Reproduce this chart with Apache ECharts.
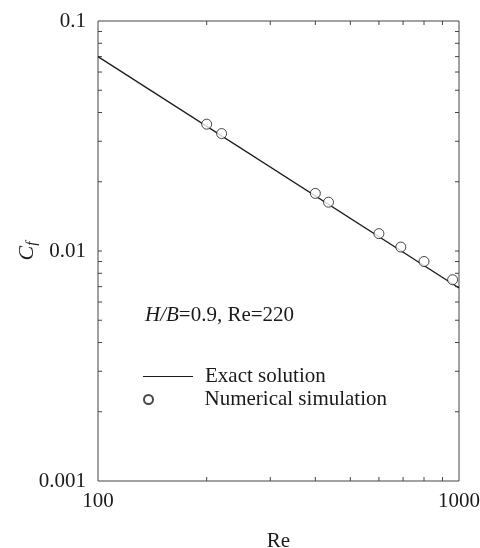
<!DOCTYPE html>
<html>
<head>
<meta charset="utf-8">
<script src="https://cdn.jsdelivr.net/npm/echarts@6/dist/echarts.min.js"></script>
<style>html,body{margin:0;padding:0;background:#fff}#c{width:480px;height:548px}</style>
</head>
<body>
<div id="c"></div>
<script>
// ---- data ----
const exactRe = [100, 1000];
const exactCf = [0.07, 0.0069];
const simRe = [200, 220, 400, 435, 600, 690, 800, 960];
const simCf = [0.0356, 0.0324, 0.0178, 0.0163, 0.0119, 0.0104, 0.0090, 0.0075];
const xTickLabels = ['100', '1000'];
const yTickLabels = ['0.001', '0.01', '0.1'];
const xTickValues = [200, 300, 400, 500, 600, 700, 800, 900];
const yTickValues = [0.002, 0.003, 0.004, 0.005, 0.006, 0.007, 0.008, 0.009, 0.01,
                     0.02, 0.03, 0.04, 0.05, 0.06, 0.07, 0.08, 0.09];
const X_MIN = 100, X_MAX = 1000, Y_MIN = 0.001, Y_MAX = 0.1;

const FONT = "'Liberation Serif', 'Times New Roman', serif";
const INK = '#1a1a1a';
const TICK = 4;

function tickX(params, api) {
  const cs = params.coordSys;
  const px = api.coord([api.value(0), Y_MIN])[0];
  const st = { stroke: '#444', lineWidth: 1 };
  return { type: 'group', children: [
    { type: 'line', shape: { x1: px, y1: cs.y + cs.height, x2: px, y2: cs.y + cs.height - TICK }, style: st },
    { type: 'line', shape: { x1: px, y1: cs.y, x2: px, y2: cs.y + TICK }, style: st }
  ]};
}
function tickY(params, api) {
  const cs = params.coordSys;
  const py = api.coord([X_MIN, api.value(1)])[1];
  const st = { stroke: '#444', lineWidth: 1 };
  return { type: 'group', children: [
    { type: 'line', shape: { x1: cs.x, y1: py, x2: cs.x + TICK, y2: py }, style: st },
    { type: 'line', shape: { x1: cs.x + cs.width, y1: py, x2: cs.x + cs.width - TICK, y2: py }, style: st }
  ]};
}

const chart = echarts.init(document.getElementById('c'), null, { renderer: 'canvas' });
chart.setOption({
  animation: false,
  backgroundColor: '#fff',
  textStyle: { fontFamily: FONT, color: INK },
  grid: {
    left: 98, right: 21, top: 21, bottom: 67, show: true, borderColor: '#444', borderWidth: 1,
    containLabel: false, outerBoundsMode: 'none'
  },
  title: {
    left: 145, top: 305, padding: 0,
    text: '{i|H/B}{n|=0.9, Re=220}',
    textStyle: {
      fontWeight: 'normal',
      rich: {
        i: { fontFamily: FONT, fontSize: 21, fontStyle: 'italic', fontWeight: 'normal', color: INK },
        n: { fontFamily: FONT, fontSize: 21, fontWeight: 'normal', color: INK }
      }
    }
  },
  legend: [
    {
      data: [{ name: 'Exact solution', icon: 'rect' }], left: 143, top: 366, orient: 'vertical',
      itemWidth: 50, itemHeight: 1.2, padding: 0,
      itemStyle: { color: INK, borderWidth: 0 },
      textStyle: { fontFamily: FONT, fontSize: 21, color: INK, padding: [0, 0, 0, 7] }
    },
    {
      data: ['Numerical simulation'], left: 143, top: 389, orient: 'vertical',
      itemWidth: 12, itemHeight: 9, padding: 0,
      textStyle: { fontFamily: FONT, fontSize: 21, color: INK, padding: [0, 0, 0, 45] }
    }
  ],
  xAxis: {
    type: 'log', logBase: 10, min: X_MIN, max: X_MAX, interval: 1,
    name: 'Re', nameLocation: 'middle', nameGap: 50, nameMoveOverlap: false,
    nameTextStyle: { fontFamily: FONT, fontSize: 21, color: INK },
    axisLine: { show: false }, axisTick: { show: false }, splitLine: { show: false },
    axisLabel: {
      fontFamily: FONT, fontSize: 21, color: INK, margin: 10,
      formatter: v => xTickLabels[Math.round(Math.log10(v)) - 2]
    }
  },
  yAxis: {
    type: 'log', logBase: 10, min: Y_MIN, max: Y_MAX, interval: 1,
    name: '{c|C}{s|f}', nameLocation: 'middle', nameGap: 58, nameRotate: 90, nameMoveOverlap: false,
    nameTextStyle: {
      rich: {
        c: { fontFamily: FONT, fontSize: 22, fontStyle: 'italic', color: INK },
        s: { fontFamily: FONT, fontSize: 15, fontStyle: 'italic', color: INK, padding: [10, 0, 0, 0] }
      }
    },
    axisLine: { show: false }, axisTick: { show: false }, splitLine: { show: false },
    axisLabel: {
      fontFamily: FONT, fontSize: 21, color: INK, margin: 12,
      formatter: v => yTickLabels[Math.round(Math.log10(v)) + 3]
    }
  },
  series: [
    {
      name: 'Exact solution', type: 'line', symbol: 'none',
      data: exactRe.map((r, i) => [r, exactCf[i]]),
      lineStyle: { color: INK, width: 1.3 }, itemStyle: { color: INK }
    },
    {
      name: 'Numerical simulation', type: 'scatter', symbol: 'circle', symbolSize: 10,
      data: simRe.map((r, i) => [r, simCf[i]]),
      itemStyle: { color: '#fff', borderColor: INK, borderWidth: 1 }, z: 5
    },
    {
      type: 'custom', renderItem: tickX, silent: true,
      data: xTickValues.map(v => [v, Y_MIN])
    },
    {
      type: 'custom', renderItem: tickY, silent: true,
      data: yTickValues.map(v => [X_MIN, v])
    }
  ]
});
</script>
</body>
</html>
